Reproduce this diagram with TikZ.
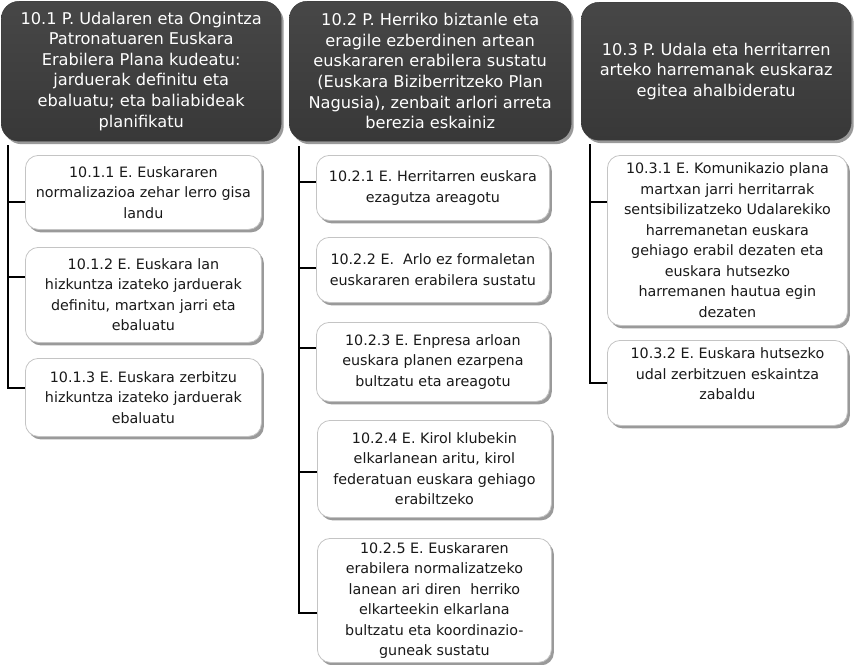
\documentclass[tikz,border=0pt]{standalone}
\usepackage{fontspec}
\setmainfont{DejaVu Sans}
\usetikzlibrary{shadows}
\definecolor{headgray}{HTML}{383838}
\definecolor{headtop}{HTML}{474747}
\definecolor{boxline}{HTML}{C4C4C4}
\definecolor{shadowgray}{HTML}{9A9A9A}
\tikzset{
	headbox/.style={rectangle, rounded corners=18pt, anchor=north west,
		top color=headtop, bottom color=headgray, draw=headgray,
		drop shadow={shadow xshift=2.5pt, shadow yshift=-3pt, fill=shadowgray, opacity=1},
		text=white, align=center, inner sep=0pt,
		font=\fontsize{16.2}{20.6}\selectfont},
	itembox/.style={rectangle, rounded corners=13pt, anchor=north west,
		fill=white, draw=boxline, line width=0.8pt,
		drop shadow={shadow xshift=2.5pt, shadow yshift=-3pt, fill=shadowgray, opacity=1},
		text=black!90, align=center, inner sep=0pt,
		font=\fontsize{14.3}{20.5}\selectfont},
	trunk/.style={line width=1.1pt, black}
}
\begin{document}
\begin{tikzpicture}[x=1pt, y=-1pt]
	\useasboundingbox (0,0) rectangle (854,664);
	% headers
	\node[headbox, minimum width=280pt, minimum height=140pt] (h1) at (1,1)
		{10.1 P. Udalaren eta Ongintza\\Patronatuaren Euskara\\Erabilera Plana kudeatu:\\jarduerak definitu eta\\ebaluatu; eta baliabideak\\planifikatu};
	\node[headbox, minimum width=282pt, minimum height=140pt] (h2) at (289,1)
		{10.2 P. Herriko biztanle eta\\eragile ezberdinen artean\\euskararen erabilera sustatu\\(Euskara Biziberritzeko Plan\\Nagusia), zenbait arlori arreta\\berezia eskainiz};
	\node[headbox, minimum width=270pt, minimum height=138pt] (h3) at (581,2)
		{10.3 P. Udala eta herritarren\\arteko harremanak euskaraz\\egitea ahalbideratu};
	% 10.1
	\node[itembox, minimum width=236pt, minimum height=74pt] (e11) at (25,155)
		{10.1.1 E. Euskararen\\normalizazioa zehar lerro gisa\\landu};
	\node[itembox, minimum width=236pt, minimum height=95pt] (e12) at (25,247)
		{10.1.2 E. Euskara lan\\hizkuntza izateko jarduerak\\definitu, martxan jarri eta\\ebaluatu};
	\node[itembox, minimum width=236pt, minimum height=78pt] (e13) at (25,358)
		{10.1.3 E. Euskara zerbitzu\\hizkuntza izateko jarduerak\\ebaluatu};
	% 10.2
	\node[itembox, minimum width=233pt, minimum height=65pt] (e21) at (316,155)
		{10.2.1 E. Herritarren euskara\\ezagutza areagotu};
	\node[itembox, minimum width=233pt, minimum height=65pt] (e22) at (316,237)
		{10.2.2 E.\ \ Arlo ez formaletan\\euskararen erabilera sustatu};
	\node[itembox, minimum width=233pt, minimum height=79pt] (e23) at (316,322)
		{10.2.3 E. Enpresa arloan\\euskara planen ezarpena\\bultzatu eta areagotu};
	\node[itembox, minimum width=234pt, minimum height=97pt] (e24) at (317,420)
		{10.2.4 E. Kirol klubekin\\elkarlanean aritu, kirol\\federatuan euskara gehiago\\erabiltzeko};
	\node[itembox, minimum width=234pt, minimum height=124pt] (e25) at (317,538)
		{10.2.5 E. Euskararen\\erabilera normalizatzeko\\lanean ari diren\ \ herriko\\elkarteekin elkarlana\\bultzatu eta koordinazio-\\guneak sustatu};
	% 10.3
	\node[itembox, minimum width=240pt, minimum height=170pt] (e31) at (607,155)
		{10.3.1 E. Komunikazio plana\\martxan jarri herritarrak\\sentsibilizatzeko Udalarekiko\\harremanetan euskara\\gehiago erabil dezaten eta\\euskara hutsezko\\harremanen hautua egin\\dezaten};
	\node[itembox, minimum width=240pt, minimum height=85pt, text depth=18pt] (e32) at (607,340)
		{10.3.2 E. Euskara hutsezko\\udal zerbitzuen eskaintza\\zabaldu};
	% connectors
	\coordinate (t1) at (8,145);
	\coordinate (t2) at (299,146);
	\coordinate (t3) at (590,144);
	\foreach \tr/\goal/\ty in {t1/e11/202, t1/e12/277, t1/e13/388,
		t2/e21/182, t2/e22/268, t2/e23/348, t2/e24/472, t2/e25/613,
		t3/e31/202, t3/e32/383}
		\draw[trunk] (\tr) |- (\goal.west |- 0,\ty);
\end{tikzpicture}
\end{document}
